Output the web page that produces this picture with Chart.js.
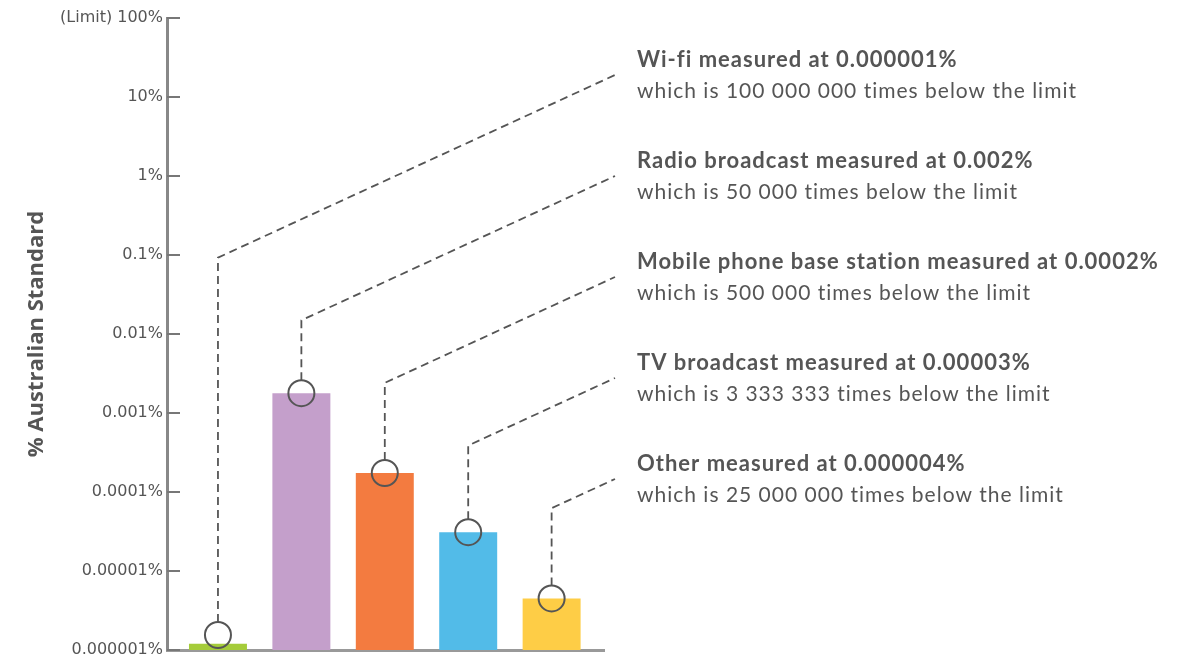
<!DOCTYPE html>
<html>
<head>
<meta charset="utf-8">
<script src="https://cdn.jsdelivr.net/npm/chart.js@4"></script>
<style>
    html, body { margin: 0; padding: 0; background: #fff; }
</style>
</head>
<body>
<canvas id="rf-chart" width="1196" height="659"></canvas>
<script>
// sources, left to right (same order as the notes on the right)
const categories = ['Wi-fi', 'Radio broadcast', 'Mobile phone base station', 'TV broadcast', 'Other'];
// % of the Australian Standard
const values = [0.0000012, 0.00178, 0.000174, 0.000031, 0.0000045];
const measuredAt = ['0.000001%', '0.002%', '0.0002%', '0.00003%', '0.000004%'];
const timesBelow = ['100 000 000', '50 000', '500 000', '3 333 333', '25 000 000'];
const barColors = ['#a5cc3a', '#c49fcb', '#f37b40', '#52bbe8', '#fecd46'];

const tickValues = [0.000001, 0.00001, 0.0001, 0.001, 0.01, 0.1, 1, 10, 100];
const tickLabels = ['0.000001%', '0.00001%', '0.0001%', '0.001%', '0.01%', '0.1%', '1%', '10%', '(Limit) 100%'];

const textColor = '#555';
const lineColor = '#555';

const calloutPlugin = {
    id: 'callouts',
    afterDatasetsDraw(chart) {
        const ctx = chart.ctx;
        const area = chart.chartArea;
        const y = chart.scales.y;
        const bars = chart.getDatasetMeta(0).data;
        const r = 13;

        ctx.save();

        // small tick marks on the inside of the y axis
        ctx.strokeStyle = '#777';
        ctx.lineWidth = 2;
        tickValues.forEach(v => {
            let py = Math.round(y.getPixelForValue(v));
            ctx.beginPath();
            ctx.moveTo(area.left, py);
            ctx.lineTo(area.left + 13, py);
            ctx.stroke();
        });

        bars.forEach((bar, i) => {
            let cx = bar.x;
            let cy = Math.min(bar.y, area.bottom - r - 2);

            let textX = area.right + 33;
            let line1 = area.top + 42 + i * 101;
            let line2 = line1 + 31;
            let endX = area.right + 11;
            let endY = line1 + 15;
            let elbowY = endY + 0.46 * (endX - cx);

            // dashed leader
            ctx.strokeStyle = lineColor;
            ctx.lineWidth = 1.8;
            ctx.setLineDash([8, 5]);
            ctx.beginPath();
            ctx.moveTo(cx, cy - r);
            ctx.lineTo(cx, elbowY);
            ctx.lineTo(endX, endY);
            ctx.stroke();

            // ring at the bar top
            ctx.setLineDash([]);
            ctx.lineWidth = 2;
            ctx.beginPath();
            ctx.arc(cx, cy, r, 0, Math.PI * 2);
            ctx.stroke();

            // note text
            ctx.fillStyle = textColor;
            ctx.textAlign = 'left';
            ctx.textBaseline = 'middle';
            ctx.letterSpacing = '1px';
            ctx.font = 'bold 22px Lato';
            ctx.fillText(`${categories[i]} measured at ${measuredAt[i]}`, textX, line1);
            ctx.font = '21px Lato';
            ctx.fillText(`which is ${timesBelow[i]} times below the limit`, textX, line2);
            ctx.letterSpacing = '0px';
        });

        ctx.restore();
    }
};

const ctx = document.getElementById('rf-chart');
const chart = new Chart(ctx, {
    type: 'bar',
    data: {
        datasets: [{
            data: values.map((v, i) => ({ x: i, y: v })),
            backgroundColor: barColors,
            borderWidth: 0,
            categoryPercentage: 1,
            barPercentage: 0.695
        }]
    },
    options: {
        responsive: false,
        animation: false,
        layout: {
            padding: { top: 18, right: 592, bottom: 9, left: 0 }
        },
        plugins: {
            legend: { display: false },
            tooltip: { enabled: false }
        },
        scales: {
            x: {
                type: 'linear',
                min: -0.611,
                max: 4.628,
                offset: false,
                afterBuildTicks: scale => {
                    scale.ticks = categories.map((c, i) => ({ value: i }));
                },
                afterFit: scale => {
                    scale.height = 0;
                    scale.paddingLeft = 0;
                    scale.paddingRight = 0;
                },
                ticks: { display: false },
                grid: { display: true, drawOnChartArea: false, drawTicks: false },
                border: { color: '#999', width: 3 }
            },
            y: {
                type: 'logarithmic',
                min: 0.000001,
                max: 100,
                afterBuildTicks: scale => {
                    scale.ticks = tickValues.map(v => ({ value: v }));
                },
                afterFit: scale => {
                    scale.width = 167;
                    scale.paddingTop = 0;
                    scale.paddingBottom = 0;
                },
                ticks: {
                    callback: (value, index) => tickLabels[index],
                    color: textColor,
                    padding: 4,
                    font: { family: 'DejaVu Sans', size: 16 }
                },
                grid: { display: true, drawOnChartArea: false, drawTicks: false },
                border: { color: '#888', width: 3 },
                title: {
                    display: true,
                    text: '% Australian Standard',
                    color: textColor,
                    font: { family: 'Open Sans', size: 22, weight: 'bold' },
                    padding: { top: 24, bottom: 0 }
                }
            }
        }
    },
    plugins: [calloutPlugin]
});
</script>
</body>
</html>
